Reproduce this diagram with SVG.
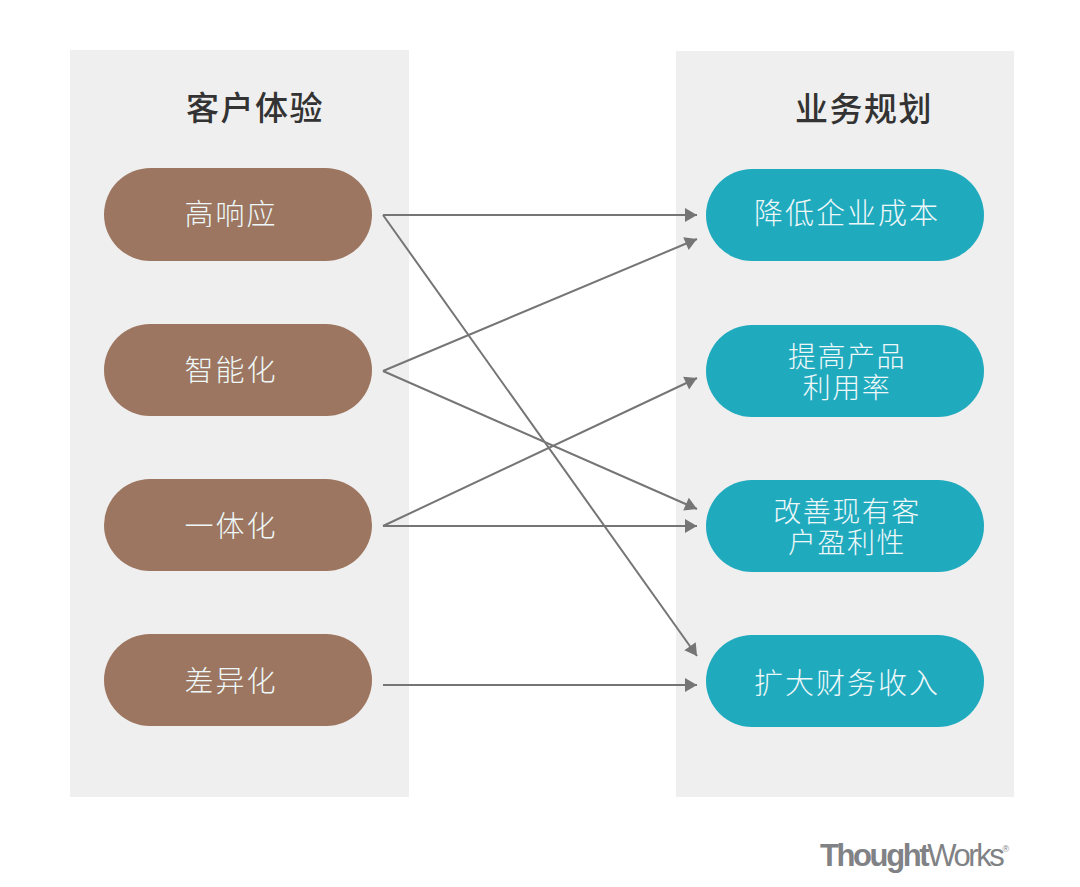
<svg xmlns="http://www.w3.org/2000/svg" width="1080" height="887" viewBox="0 0 1080 887">
<style>
text{font-family:"Noto Sans CJK SC","Liberation Sans",sans-serif;text-anchor:middle}
.p{fill:#f0efef}
.h{font-size:33px;fill:#333;font-weight:500;letter-spacing:1.5px}
.b{fill:#9c7660}
.t{fill:#20aabe}
.l{font-size:29px;fill:#eef8f9;letter-spacing:2px;font-weight:300}
.s{font-size:28px;fill:#eef8f9;letter-spacing:1.5px;font-weight:300}
.c{stroke:#757575;stroke-width:2;fill:none;marker-end:url(#a)}
.logo{font-family:"Liberation Sans",sans-serif;font-size:31px;fill:#808285;letter-spacing:-2.4px;text-anchor:start}
</style>
<defs><marker id="a" markerUnits="userSpaceOnUse" markerWidth="16" markerHeight="16" refX="13" refY="8" orient="auto"><path d="M1 1L13 8L1 15z" fill="#757575"/></marker></defs>
<rect width="1080" height="887" fill="#fff"/>
<g id="panel-left"><rect class="p" x="70" y="50" width="339" height="747"/><text class="h" x="255" y="120">客户体验</text></g>
<g id="panel-right"><rect class="p" x="676" y="51" width="338" height="746"/><text class="h" x="864" y="121">业务规划</text></g>
<g id="connectors">
<path class="c" d="M383 215H697"/><path class="c" d="M383 215L697 656"/>
<path class="c" d="M383 371L697 239"/><path class="c" d="M383 371L697 509"/>
<path class="c" d="M383 526L697 378"/><path class="c" d="M383 526H697"/>
<path class="c" d="M383 685H697"/>
</g>
<g id="n1"><rect class="b" x="104" y="168" width="268" height="93" rx="46.5"/><text class="l" x="231" y="225">高响应</text></g>
<g id="n2"><rect class="b" x="104" y="324" width="268" height="92" rx="46"/><text class="l" x="231" y="381">智能化</text></g>
<g id="n3"><rect class="b" x="104" y="479" width="268" height="92" rx="46"/><text class="l" x="231" y="537">一体化</text></g>
<g id="n4"><rect class="b" x="104" y="634" width="268" height="92" rx="46"/><text class="l" x="231" y="692">差异化</text></g>
<g id="m1"><rect class="t" x="706" y="169" width="278" height="92" rx="46"/><text class="l" x="847" y="224">降低企业成本</text></g>
<g id="m2"><rect class="t" x="706" y="325" width="278" height="92" rx="46"/><text class="s" x="847" y="367">提高产品</text><text class="s" x="847" y="398">利用率</text></g>
<g id="m3"><rect class="t" x="706" y="480" width="278" height="92" rx="46"/><text class="s" x="847" y="522">改善现有客</text><text class="s" x="847" y="553">户盈利性</text></g>
<g id="m4"><rect class="t" x="706" y="635" width="278" height="92" rx="46"/><text class="l" x="847" y="694">扩大财务收入</text></g>
<g id="logo"><text class="logo" x="820" y="866"><tspan font-weight="700">Thought</tspan><tspan>Works</tspan><tspan font-size="9" dy="-14" letter-spacing="0">®</tspan></text></g>
</svg>
